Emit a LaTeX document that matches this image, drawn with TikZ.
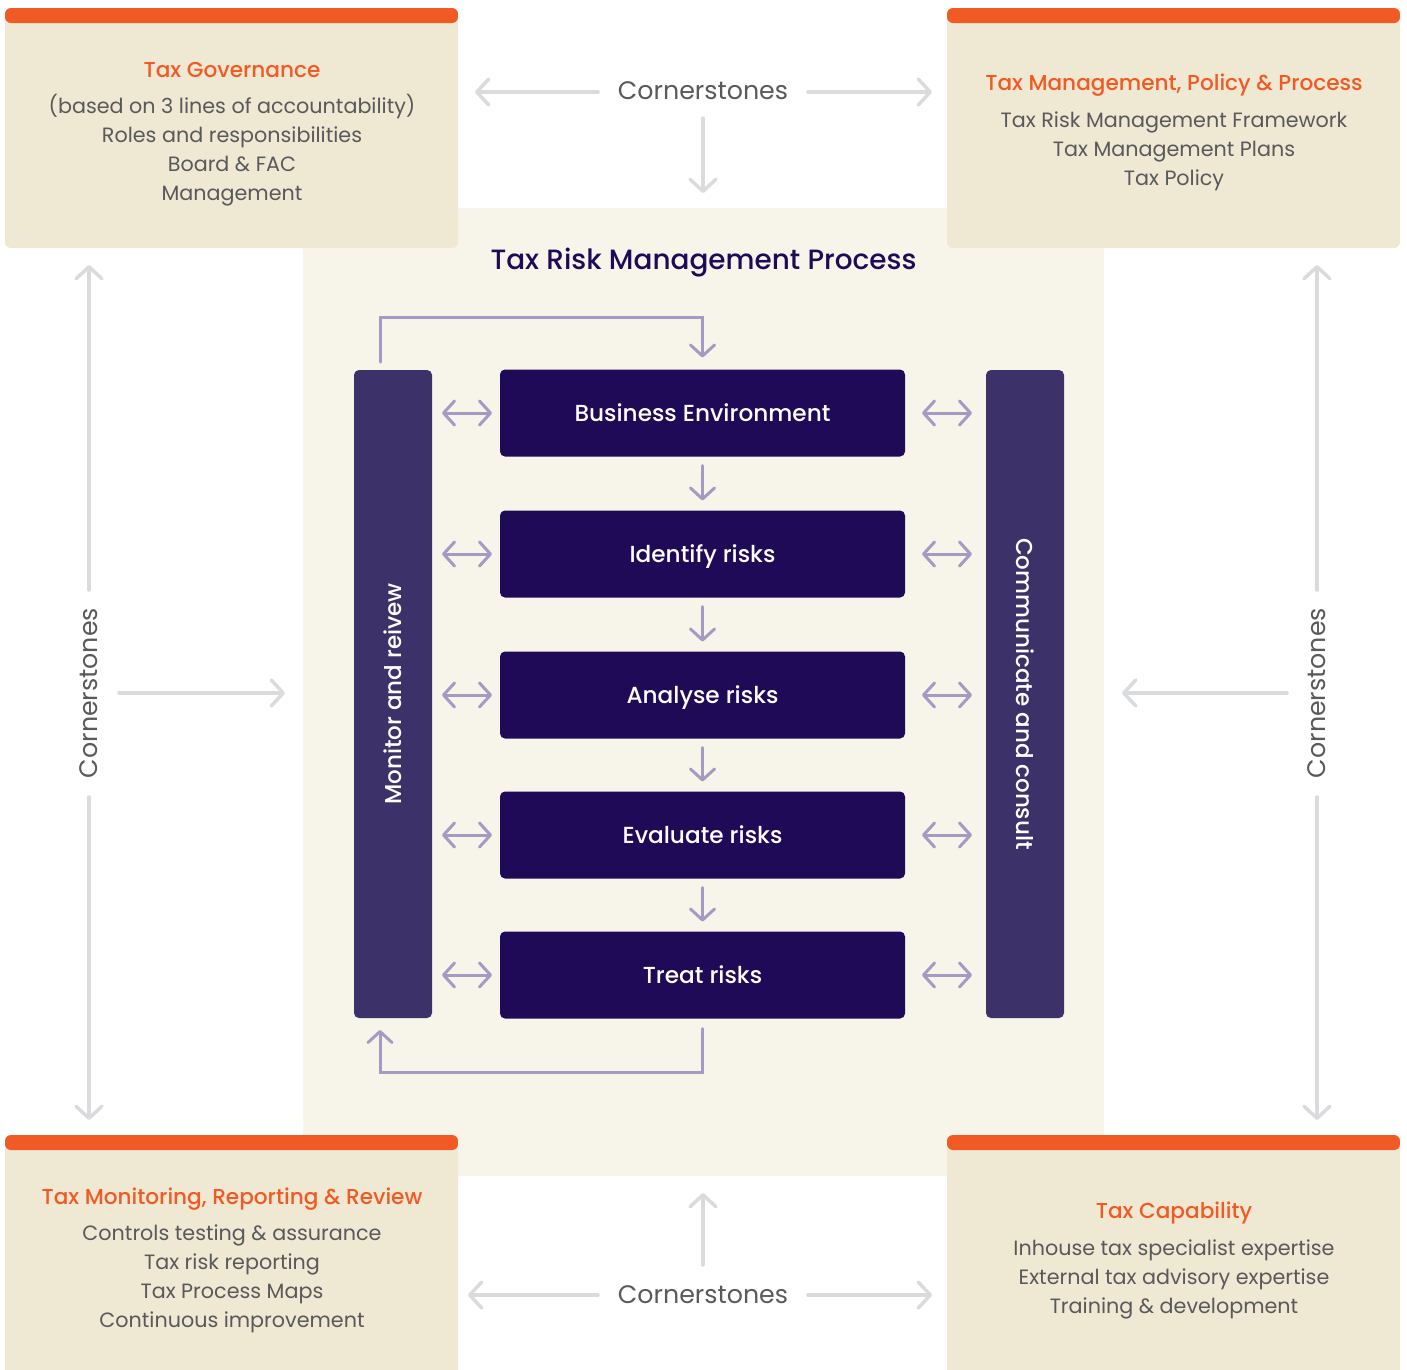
\documentclass[tikz,border=0pt]{standalone}
\usepackage{fontspec}
\setmainfont{Poppins}
\newfontfamily\medfont{Poppins Medium}
\usetikzlibrary{arrows.meta}

\definecolor{taxorange}{HTML}{F15A24}
\definecolor{boxcream}{HTML}{EFE8D2}
\definecolor{bgcream}{HTML}{F7F4EA}
\definecolor{stepnavy}{HTML}{1F0A57}
\definecolor{barpurple}{HTML}{3D3169}
\definecolor{flowpurple}{HTML}{A49BC4}
\definecolor{stonegrey}{HTML}{D9DBDD}
\definecolor{textgrey}{HTML}{58595B}

\tikzset{
  corner/.style={rectangle, rounded corners=6pt, fill=boxcream, outer sep=0pt,
    minimum width=453pt, minimum height=240pt,
    path picture={\fill[taxorange] ([yshift=2pt]path picture bounding box.north west)
      rectangle ([yshift=-15pt]path picture bounding box.north east);}},
  head/.style={text=taxorange, yshift=-2pt, font=\medfont\fontsize{21.6}{25}\selectfont},
  body/.style={text=textgrey, align=center, yshift=-2pt, font=\fontsize{20.7}{29}\selectfont},
  stepbox/.style={rectangle, rounded corners=5pt, fill=stepnavy, text=white, outer sep=0pt,
    minimum width=405pt, minimum height=87pt, text height=17pt, text depth=0pt,
    font=\medfont\fontsize{23.2}{26}\selectfont},
  sidebar/.style={rectangle, rounded corners=5pt, fill=barpurple, text=white, outer sep=0pt,
    minimum width=78pt, minimum height=648pt, font=\medfont\fontsize{23}{26}\selectfont},
  stonetext/.style={text=textgrey, inner sep=0pt, font=\fontsize{25.3}{30}\selectfont},
  stone/.style={draw=stonegrey, line width=3.5pt, line cap=round,
    -{Straight Barb[length=12pt,width=26pt,round]}},
  flow/.style={draw=flowpurple, line width=3pt, line cap=round,
    -{Straight Barb[length=11pt,width=24pt,round]}},
  twoway/.style={flow, {Straight Barb[length=11pt,width=24pt,round]}-{Straight Barb[length=11pt,width=24pt,round]}}
}

\begin{document}
\begin{tikzpicture}[x=1pt, y=-1pt]
	
	\clip (0,0) rectangle (1407,1369); % picture frame
	
	% process background
	\node[fill=bgcream, minimum width=801pt, minimum height=968pt, outer sep=0pt] (bg) at (703.5,692) {};
	
	% four corner boxes
	\node[corner] (tl) at (231.5,128) {};
	\node[corner] (tr) at (1173.5,128) {};
	\node[corner, minimum height=250pt] (bl) at (231.5,1260) {};
	\node[corner, minimum height=250pt] (br) at (1173.5,1260) {};
	
	\node[head] (tlhead) at (232,68) {Tax Governance};
	\node[body] (tlbody) at (232,148.5) {(based on 3 lines of accountability)\\Roles and responsibilities\\Board \& FAC\\Management};
	\node[head] (trhead) at (1174,83) {Tax Management, Policy \& Process};
	\node[body] (trbody) at (1174,149) {Tax Risk Management Framework\\Tax Management Plans\\Tax Policy};
	\node[head] (blhead) at (232,1197) {Tax Monitoring, Reporting \& Review};
	\node[body] (blbody) at (232,1276.5) {Controls testing \& assurance\\Tax risk reporting\\Tax Process Maps\\Continuous improvement};
	\node[head] (brhead) at (1174,1211) {Tax Capability};
	\node[body] (brbody) at (1174,1277) {Inhouse tax specialist expertise\\External tax advisory expertise\\Training \& development};
	
	% title
	\node[text=stepnavy, font=\medfont\fontsize{27.9}{32}\selectfont] (title) at (703.5,263) {Tax Risk Management Process};
	
	% process steps
	\node[stepbox] (be) at (702.5,413) {Business Environment};
	\node[stepbox] (ir) at (702.5,554) {Identify risks};
	\node[stepbox] (ar) at (702.5,695) {Analyse risks};
	\node[stepbox] (er) at (702.5,835) {Evaluate risks};
	\node[stepbox] (tre) at (702.5,975) {Treat risks};
	
	% side bars
	\node[sidebar] (mon) at (393,694) {\rotatebox{90}{Monitor and reivew}};
	\node[sidebar] (com) at (1025,694) {\rotatebox{-90}{Communicate and consult}};
	
	% flow down
	\foreach \a/\b in {be/ir, ir/ar, ar/er, er/tre}
		\draw[flow, shorten <=9pt, shorten >=10pt] (\a) -- (\b);
	
	% links to the side bars
	\foreach \s in {be, ir, ar, er, tre} {
		\draw[twoway, shorten <=10pt, shorten >=8pt] (mon.east |- \s) -- (\s.west);
		\draw[twoway, shorten <=17pt, shorten >=14pt] (\s.east) -- (com.west |- \s);
	}
	
	% loops
	\draw[flow] ([xshift=-13pt, yshift=8pt]mon.north) |- ([yshift=52pt]be.north) -- ([yshift=12pt]be.north);
	\draw[flow] ([yshift=-10pt]tre.south) |- ([xshift=-13pt, yshift=-54pt]mon.south) -- ([xshift=-13pt, yshift=-12pt]mon.south);
	
	% cornerstones
	\node[stonetext] (ctop) at (703,91) {Cornerstones};
	\node[stonetext] (cbot) at (703,1295) {Cornerstones};
	\node[stonetext, rotate=90] (cleft) at (89,693) {Cornerstones};
	\node[stonetext, rotate=90] (cright) at (1317,693) {Cornerstones};
	
	\draw[stone] (703,118) -- ([yshift=15pt]bg.north -| ctop); % down
	\draw[stone] (598,92) -- ([xshift=17pt]tl.east |- 0,92);
	\draw[stone] (808,92) -- ([xshift=-15pt]tr.west |- 0,92);
	\draw[stone] (703,1265) -- ([yshift=-17pt]bg.south -| cbot); % up
	\draw[stone] (598,1295) -- ([xshift=10pt]bl.east |- 0,1295);
	\draw[stone] (808,1295) -- ([xshift=-15pt]br.west |- 0,1295);
	\draw[stone] (89,590) -- ([yshift=-17pt]tl.south -| cleft);
	\draw[stone] (89,797) -- ([yshift=15pt]bl.north -| cleft);
	\draw[stone] (119,693) -- ([xshift=-18pt]bg.west |- cleft);
	\draw[stone] (1317,590) -- ([yshift=-17pt]tr.south -| cright);
	\draw[stone] (1317,797) -- ([yshift=15pt]br.north -| cright);
	\draw[stone] (1287,693) -- ([xshift=18pt]bg.east |- cright);
	
\end{tikzpicture}
\end{document}
